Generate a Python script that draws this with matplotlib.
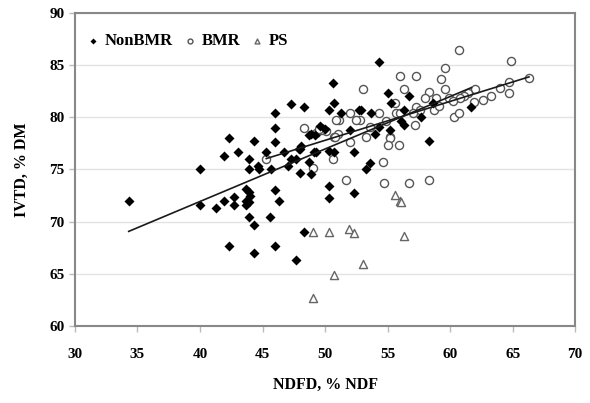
import numpy as np
import matplotlib
matplotlib.use('Agg')
import matplotlib.pyplot as plt


# NonBMR hybrids: NDFD (% NDF) vs IVTD (% DM)
nonbmr_x = [34.3, 40.0, 40.0, 41.3, 41.9, 42.3, 41.9, 43.0, 42.7, 42.7,
            42.3, 43.7, 43.9, 44.0, 43.7, 43.9, 43.7, 43.9, 44.3, 44.3,
            44.3, 43.9, 43.9, 44.6, 44.7, 45.3, 45.6, 45.7, 46.0, 46.0,
            46.0, 46.0, 46.3, 46.0, 47.3, 46.7, 47.0, 47.7, 47.9, 47.7,
            48.3, 48.3, 48.1, 48.7, 48.9, 49.6, 48.7, 48.0, 48.9, 49.3,
            50.3, 50.3, 50.3, 50.3, 50.6, 50.7, 51.3, 52.7, 52.9, 53.7,
            54.3, 55.0, 55.3, 56.7, 56.3, 49.2, 52.0, 54.0, 55.2, 57.7,
            61.7, 58.3, 56.1, 56.3, 54.3, 50.0, 48.0, 49.1, 50.7, 52.3,
            53.6, 53.3, 52.3, 47.3, 58.6]
nonbmr_y = [72.0, 75.0, 71.6, 71.3, 72.0, 78.0, 76.3, 76.7, 72.4, 71.6,
            67.7, 73.1, 72.8, 72.5, 72.0, 71.9, 71.6, 70.4, 69.7, 67.0,
            77.7, 76.0, 75.0, 75.3, 75.0, 76.7, 70.4, 75.0, 80.4, 79.0,
            77.6, 73.0, 72.0, 67.7, 81.3, 76.7, 75.3, 76.0, 77.0, 66.3,
            69.0, 81.0, 77.2, 78.3, 78.4, 79.2, 75.7, 74.7, 74.6, 76.7,
            76.8, 73.4, 72.3, 80.7, 83.3, 81.4, 80.4, 80.7, 80.7, 80.4,
            85.3, 82.3, 81.4, 82.0, 80.7, 78.3, 78.8, 78.4, 78.8, 80.0,
            81.0, 77.7, 79.6, 79.3, 79.1, 78.9, 77.0, 76.7, 76.7, 76.7,
            75.6, 75.0, 72.7, 76.0, 81.4]

# BMR hybrids
bmr_x = [45.3, 48.3, 49.7, 49.3, 50.1, 49.0, 56.0, 57.3, 53.0, 56.3,
         55.6, 51.1, 50.9, 52.0, 52.8, 52.5, 54.3, 55.7, 56.0, 49.7,
         57.3, 51.0, 50.7, 53.6, 55.2, 60.7, 64.9, 59.6, 59.3, 59.6,
         58.3, 58.0, 58.9, 64.7, 64.0, 64.7, 63.3, 62.6, 62.0, 61.9,
         60.3, 60.7, 58.7, 57.6, 57.2, 54.9, 53.3, 55.2, 55.0, 55.9,
         52.0, 54.6, 51.7, 54.7, 56.7, 58.3, 50.6, 49.5, 61.4, 61.1,
         60.8, 66.3, 59.1, 50.8, 57.0, 59.9, 60.2]
bmr_y = [76.0, 79.0, 79.0, 78.5, 78.7, 75.1, 84.0, 84.0, 82.7, 82.7,
         81.4, 79.7, 79.7, 80.4, 79.7, 79.7, 80.4, 80.4, 80.4, 78.8,
         81.0, 78.4, 78.1, 79.1, 78.1, 86.4, 85.4, 84.7, 83.7, 82.7,
         82.4, 81.8, 81.8, 83.4, 82.8, 82.3, 82.0, 81.7, 82.7, 81.5,
         80.0, 80.4, 80.7, 80.7, 79.3, 79.6, 78.1, 78.0, 77.3, 77.3,
         77.6, 75.7, 74.0, 73.7, 73.7, 74.0, 76.0, 78.9, 82.3, 82.0,
         81.8, 83.8, 81.1, 78.1, 80.4, 81.8, 81.6]

# PS hybrids
ps_x = [55.6, 56.0, 56.1, 49.0, 50.3, 51.9, 52.3, 56.3, 53.0, 50.7, 49.0]
ps_y = [72.6, 72.0, 71.9, 69.0, 69.0, 69.3, 68.9, 68.6, 65.9, 64.9, 62.7]

x_ticks = [30, 35, 40, 45, 50, 55, 60, 65, 70]
y_ticks = [60, 65, 70, 75, 80, 85, 90]


def add_trend(ax, xs, ys):
    # linear trendline over the span of the group
    slope, icpt = np.polyfit(xs, ys, 1)
    xr = np.array([min(xs), max(xs)])
    ax.plot(xr, slope * xr + icpt, color='#1a1a1a', lw=1.2, zorder=4)


plt.rcParams['font.family'] = ['Liberation Serif', 'DejaVu Serif']
plt.rcParams['font.weight'] = 'bold'

fig = plt.figure(figsize=(5.9, 4.03), dpi=100)
ax = fig.add_axes([0.127, 0.191, 0.848, 0.777])

ax.scatter(nonbmr_x, nonbmr_y, marker='D', s=26, color='black', lw=0, label='NonBMR', zorder=3)
ax.scatter(bmr_x, bmr_y, marker='o', s=34, facecolor='white', edgecolor='#555555', lw=1.0, label='BMR', zorder=2)
ax.scatter(ps_x, ps_y, marker='^', s=34, facecolor='white', edgecolor='#666666', lw=1.0, label='PS', zorder=2)
add_trend(ax, nonbmr_x, nonbmr_y)
add_trend(ax, bmr_x, bmr_y)

ax.set_xlim(30, 70)
ax.set_ylim(60, 90)
ax.set_xticks(x_ticks)
ax.set_yticks(y_ticks)
ax.yaxis.grid(True, color='#e3e3e3', lw=1.0)
ax.set_axisbelow(True)
for sp in ax.spines.values():
    sp.set_color('#888888')
    sp.set_linewidth(1.5)
ax.tick_params(axis='both', colors='#bbbbbb', length=4, width=1, labelcolor='black', labelsize=11)
ax.tick_params(axis='x', pad=12)

ax.set_xlabel('NDFD, % NDF', fontsize=11.5, fontweight='bold', labelpad=11)
ax.set_ylabel('IVTD, % DM', fontsize=11.5, fontweight='bold', labelpad=14)

ax.legend(loc='upper left', bbox_to_anchor=(0.0, 0.975), ncol=3, frameon=False,
          handlelength=0.7, handletextpad=0.35, columnspacing=0.65, borderaxespad=0.35,
          markerscale=0.6, prop={'weight': 'bold', 'size': 12})

plt.savefig('out.png', dpi=100)
plt.close()
